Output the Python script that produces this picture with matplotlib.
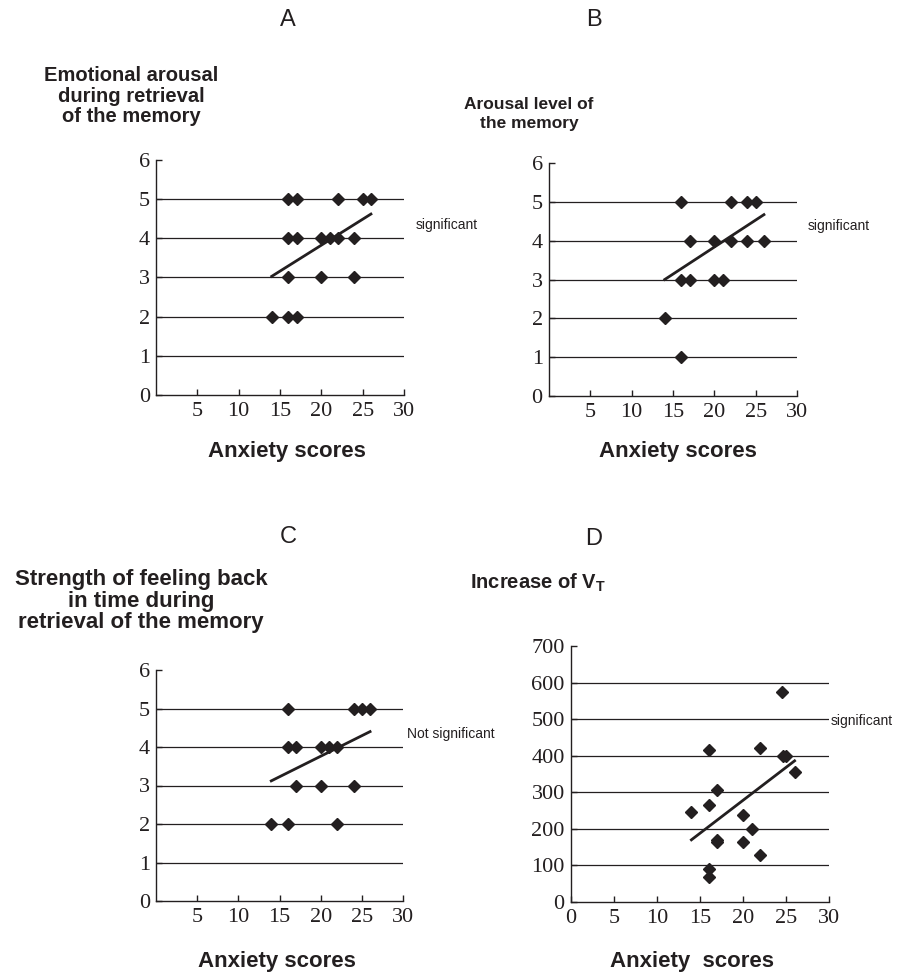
import matplotlib
matplotlib.use("Agg")
import matplotlib.pyplot as plt

W, H = 907, 972

# ---- data ----
a_x = [16, 17, 22, 25, 26, 16, 17, 20, 21, 22, 24, 16, 20, 24, 14, 16, 17]
a_y = [5, 5, 5, 5, 5, 4, 4, 4, 4, 4, 4, 3, 3, 3, 2, 2, 2]
a_trend_x = [14, 26]
a_trend_y = [3.03, 4.62]

b_x = [16, 22, 24, 25, 17, 20, 22, 24, 26, 16, 17, 20, 21, 14, 16]
b_y = [5, 5, 5, 5, 4, 4, 4, 4, 4, 3, 3, 3, 3, 2, 1]
b_trend_x = [14, 26]
b_trend_y = [3.0, 4.67]

c_x = [16, 24, 25, 26, 16, 17, 20, 21, 22, 17, 20, 24, 14, 16, 22]
c_y = [5, 5, 5, 5, 4, 4, 4, 4, 4, 3, 3, 3, 2, 2, 2]
c_trend_x = [14, 26]
c_trend_y = [3.12, 4.4]

d_x = [14, 16, 16, 16, 16, 17, 17, 17, 20, 20, 21, 22, 22, 24.5, 24.6, 25, 26]
d_y = [247, 265, 415, 90, 68, 305, 165, 170, 238, 165, 200, 420, 129, 574, 399, 399, 355]
d_trend_x = [14, 26]
d_trend_y = [170, 386]

panel_letters = ["A", "B", "C", "D"]
ylabels = ["Emotional arousal\nduring retrieval\nof the memory",
           "Arousal level of\nthe memory",
           "Strength of feeling back\nin time during\nretrieval of the memory",
           "Increase of V$_\\mathregular{T}$"]
xlabels = ["Anxiety scores", "Anxiety scores", "Anxiety scores", "Anxiety  scores"]
sig_labels = ["significant", "significant", "Not significant", "significant"]

INK = "#231f20"

fig = plt.figure(figsize=(W / 100, H / 100), dpi=100)

def ax_at(l, r, t, b):
    return fig.add_axes([l / W, 1 - b / H, (r - l) / W, (b - t) / H])

SERIF = "Liberation Serif"
SANS = "Liberation Sans"

def style(ax, ymax, ystep, xticks):
    ax.set_xlim(0, 30)
    ax.set_ylim(0, ymax)
    for s in ["top", "right"]:
        ax.spines[s].set_visible(False)
    for s in ["left", "bottom"]:
        ax.spines[s].set_linewidth(1.0)
        ax.spines[s].set_color(INK)
    yt = list(range(0, ymax + 1, ystep))
    ax.set_yticks(yt)
    ax.set_xticks(xticks)
    for y in yt[1:-1]:
        ax.axhline(y, color=INK, lw=0.9, zorder=1)
    ax.tick_params(direction="in", length=4, width=1.0, color=INK, labelcolor=INK)
    ax.tick_params(axis="x", pad=5)
    ax.tick_params(axis="y", pad=4.5)
    for lab in ax.get_xticklabels() + ax.get_yticklabels():
        lab.set_fontfamily(SERIF)
        lab.set_fontsize(16)

axes_px = [(156, 404, 160, 395), (549, 797, 163, 396), (156, 403, 670, 901), (571, 829, 646, 902)]
data = [(a_x, a_y, a_trend_x, a_trend_y), (b_x, b_y, b_trend_x, b_trend_y),
        (c_x, c_y, c_trend_x, c_trend_y), (d_x, d_y, d_trend_x, d_trend_y)]

for i, (box, (x, y, tx, ty)) in enumerate(zip(axes_px, data)):
    ax = ax_at(*box)
    if i < 3:
        style(ax, 6, 1, [5, 10, 15, 20, 25, 30])
    else:
        style(ax, 700, 100, [0, 5, 10, 15, 20, 25, 30])
    ax.plot(x, y, linestyle="none", marker="D", ms=6.5, color=INK, zorder=3)
    ax.plot(tx, ty, color=INK, lw=2.0, zorder=3)

def ftext(x, y, s, **kw):
    fig.text(x / W, 1 - y / H, s, color=INK, **kw)

# panel letters
for (px, py), s in zip([(288, 20), (594, 20), (288, 537), (594, 539)], panel_letters):
    ftext(px, py, s, ha="center", va="center", fontsize=17, family=SANS)

# y labels
ftext(131, 96, ylabels[0], ha="center", va="center", fontsize=14.5, family=SANS,
      weight="bold", linespacing=1.1)
ftext(529, 114, ylabels[1], ha="center", va="center", fontsize=12.5, family=SANS,
      weight="bold", linespacing=1.3)
ftext(141, 601, ylabels[2], ha="center", va="center", fontsize=16, family=SANS,
      weight="bold", linespacing=1.05)
ftext(470, 583, ylabels[3], ha="left", va="center", fontsize=14.5, family=SANS,
      weight="bold")

# x labels
for (px, py), s in zip([(287, 451), (678, 451), (277, 961), (692, 961)], xlabels):
    ftext(px, py, s, ha="center", va="center", fontsize=16, family=SANS, weight="bold")

# significance notes
for (px, py), s in zip([(416, 225), (808, 226), (407, 734), (831, 721)], sig_labels):
    ftext(px, py, s, ha="left", va="center", fontsize=10, family=SANS)

fig.savefig("out.png", dpi=100, facecolor="white")
